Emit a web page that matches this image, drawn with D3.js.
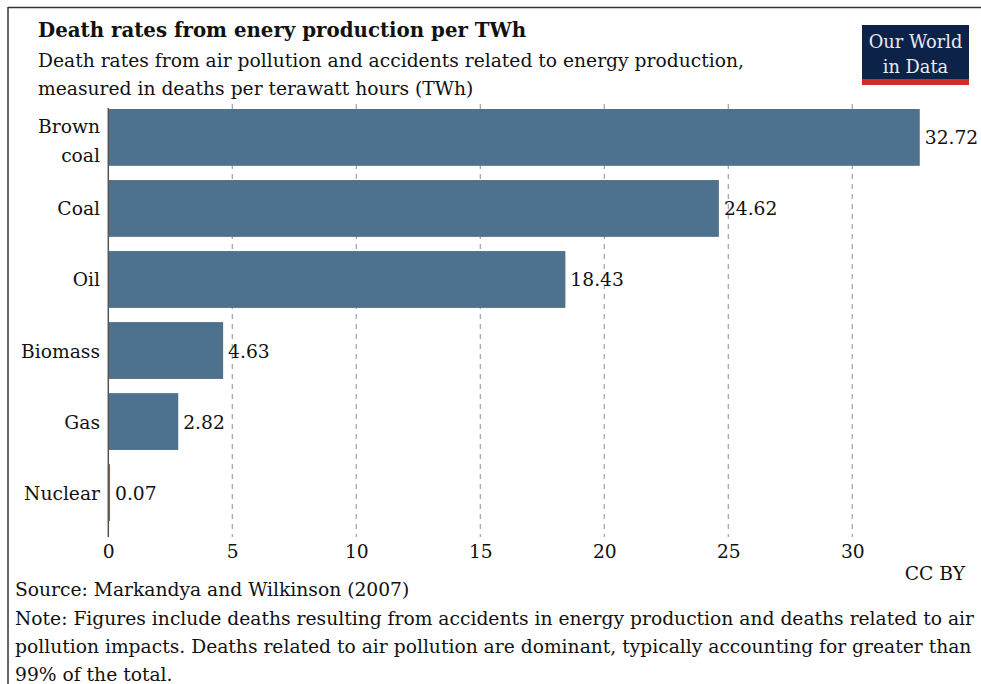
<!DOCTYPE html>
<html>
<head>
<meta charset="utf-8">
<script src="https://cdn.jsdelivr.net/npm/d3@7"></script>
<style>
  html, body { margin: 0; padding: 0; background: #fff; }
  svg { display: block; }
  text { font-family: "DejaVu Serif", serif; fill: #111; }
</style>
</head>
<body>
<svg id="chart" width="981" height="684"></svg>
<script>
const categories = ["Brown\ncoal", "Coal", "Oil", "Biomass", "Gas", "Nuclear"];
const values = [32.72, 24.62, 18.43, 4.63, 2.82, 0.07];
const xTicks = [0, 5, 10, 15, 20, 25, 30];

const title = "Death rates from enery production per TWh";
const subtitle = ["Death rates from air pollution and accidents related to energy production,",
                  "measured in deaths per terawatt hours (TWh)"];
const source = "Source: Markandya and Wilkinson (2007)";
const note = ["Note: Figures include deaths resulting from accidents in energy production and deaths related to air",
              "pollution impacts. Deaths related to air pollution are dominant, typically accounting for greater than",
              "99% of the total."];

const FONT = '"DejaVu Serif", serif';
const FS = 18.7;
const svg = d3.select("#chart");

// frame (top and left edges visible)
svg.append("line").attr("x1", 8).attr("x2", 981).attr("y1", 7.5).attr("y2", 7.5)
  .attr("stroke", "#333").attr("stroke-width", 1.5);
svg.append("line").attr("x1", 8).attr("x2", 8).attr("y1", 7).attr("y2", 684)
  .attr("stroke", "#333").attr("stroke-width", 1.5);

const x = d3.scaleLinear().domain([0, 30]).range([108.3, 852.3]);
const y = d3.scaleBand().domain(categories).range([109, 521]).paddingInner(0.2).paddingOuter(0);

// gridlines
svg.append("g").selectAll("line").data(xTicks.filter(d => d > 0)).join("line")
  .attr("x1", d => x(d)).attr("x2", d => x(d))
  .attr("y1", 104).attr("y2", 537)
  .attr("stroke", "#a0a0a0").attr("stroke-width", 1.2).attr("stroke-dasharray", "5,5");

// bars
svg.append("g").selectAll("rect").data(values).join("rect")
  .attr("x", x(0))
  .attr("y", (d, i) => y(categories[i]))
  .attr("width", d => x(d) - x(0))
  .attr("height", y.bandwidth())
  .attr("fill", "#4e718d");

// axis line
svg.append("line").attr("x1", x(0)).attr("x2", x(0)).attr("y1", 108).attr("y2", 537)
  .attr("stroke", "#555").attr("stroke-width", 1.5);

// x axis tick labels via d3 axis
const xAxis = d3.axisBottom(x).tickValues(xTicks).tickSize(0).tickPadding(0);
const gx = svg.append("g").attr("transform", "translate(0,558)").call(xAxis);
gx.select(".domain").remove();
gx.selectAll("text").attr("font-size", FS).attr("dy", 0).attr("y", 0)
  .style("font-family", FONT).attr("fill", "#111");

// value labels
svg.append("g").selectAll("text").data(values).join("text")
  .attr("x", d => x(d) + 5)
  .attr("y", (d, i) => y(categories[i]) + y.bandwidth() / 2 + 7)
  .attr("font-size", FS)
  .text(d => d.toFixed(2));

// category labels
const cl = svg.append("g").selectAll("text").data(categories).join("text")
  .attr("x", 100)
  .attr("text-anchor", "end")
  .attr("font-size", FS)
  .attr("y", d => y(d) + y.bandwidth() / 2 + 7);
cl.each(function(d) {
  const lines = d.split("\n");
  const t = d3.select(this);
  lines.forEach((ln, k) => {
    t.append("tspan").attr("x", 100)
      .attr("dy", k === 0 ? (-(lines.length - 1) * 11) : 29)
      .text(ln);
  });
});

// title
svg.append("text").attr("x", 38).attr("y", 37).attr("font-size", 19.8).attr("font-weight", "bold").text(title);
svg.append("g").selectAll("text").data(subtitle).join("text")
  .attr("x", 38).attr("y", (d, i) => 67 + i * 28).attr("font-size", FS).attr("fill", "#222").text(d => d);

// logo
svg.append("rect").attr("x", 862).attr("y", 25).attr("width", 107).attr("height", 54).attr("fill", "#0d2249");
svg.append("rect").attr("x", 862).attr("y", 79).attr("width", 107).attr("height", 6).attr("fill", "#d42b28");
svg.append("text").attr("x", 915.5).attr("y", 48).attr("text-anchor", "middle").attr("font-size", 17.8)
  .style("fill", "#e8ecf2").text("Our World");
svg.append("text").attr("x", 915.5).attr("y", 73).attr("text-anchor", "middle").attr("font-size", 17.8)
  .style("fill", "#e8ecf2").text("in Data");

// footer
svg.append("text").attr("x", 965).attr("y", 580).attr("text-anchor", "end").attr("font-size", FS).text("CC BY");
svg.append("text").attr("x", 15).attr("y", 596).attr("font-size", FS).text(source);
svg.append("g").selectAll("text").data(note).join("text")
  .attr("x", 15).attr("y", (d, i) => 625 + i * 28).attr("font-size", FS).text(d => d);
</script>
</body>
</html>
